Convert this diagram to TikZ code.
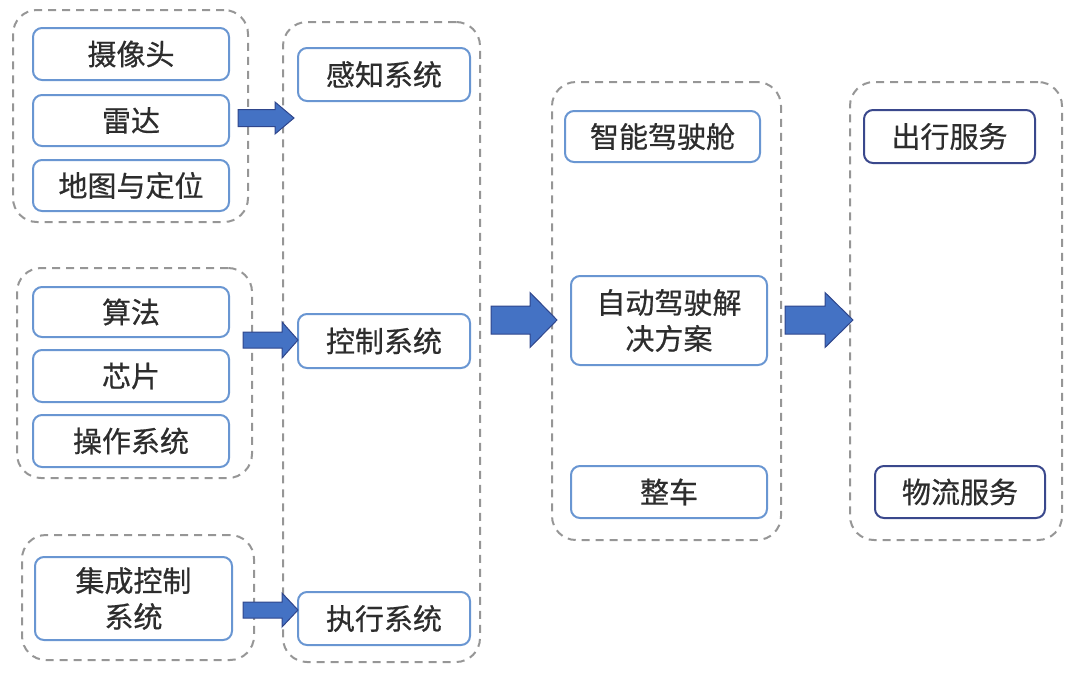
\documentclass[tikz,border=0pt]{standalone}
\usepackage{fontspec}
\newfontfamily\cjk[FakeBold=0.6]{Noto Sans CJK SC}
\usetikzlibrary{fit}
\definecolor{boxblue}{RGB}{105,150,210}
\definecolor{boxnavy}{RGB}{58,72,140}
\definecolor{arrfill}{RGB}{68,114,196}
\definecolor{arrdraw}{RGB}{47,70,140}
\definecolor{grpgray}{RGB}{150,150,150}
\definecolor{txt}{RGB}{45,45,45}
\tikzset{
  box/.style={draw=boxblue, line width=1pt, rounded corners=4.5pt, fill=white,
    text=txt, font=\cjk\fontsize{14.5}{18}\selectfont, align=center, inner sep=0pt},
  navybox/.style={box, draw=boxnavy},
  grp/.style={draw=grpgray, line width=1pt, dash pattern=on 4pt off 3pt,
    rounded corners=12pt, inner sep=0pt},
  barrowsty/.style={fill=arrfill, draw=arrdraw, line width=0.5pt, line join=miter}
}
\newcommand\blockarrow[6]{%
  \draw[barrowsty] (#1,#4-#5) -- (#2,#4-#5) -- (#2,#4-#6) -- (#3,#4) -- (#2,#4+#6) -- (#2,#4+#5) -- (#1,#4+#5) -- cycle;}
\begin{document}
\begin{tikzpicture}[x=0.5pt,y=-0.5pt]
\useasboundingbox (0,0) rectangle (1080,675);
% groups
\node[grp, fit={(13,10) (248,222)}] (g1) {};
\node[grp, fit={(17,268) (252,478)}] (g2) {};
\node[grp, fit={(22,535) (254,660)}] (g3) {};
\node[grp, fit={(283,22) (480,662)}] (c2) {};
\node[grp, fit={(552,82) (781,540)}] (c3) {};
\node[grp, fit={(850,82) (1062,540)}] (c4) {};
% column 1
\node[box, minimum width=98pt, minimum height=26pt] (cam) at (131,54) {摄像头};
\node[box, minimum width=98pt, minimum height=25.5pt] (radar) at (131,120.5) {雷达};
\node[box, minimum width=98pt, minimum height=25.5pt] (map) at (131,185.5) {地图与定位};
\node[box, minimum width=98pt, minimum height=25pt] (algo) at (131,312) {算法};
\node[box, minimum width=98pt, minimum height=26pt] (chip) at (131,376) {芯片};
\node[box, minimum width=98pt, minimum height=26pt] (os) at (131,441) {操作系统};
\node[box, minimum width=98.5pt, minimum height=41.5pt] (ics) at (133.5,598.5) {集成控制\\系统};
% column 2
\node[box, minimum width=86pt, minimum height=26.5pt] (sense) at (384,74.5) {感知系统};
\node[box, minimum width=86pt, minimum height=27pt] (ctrl) at (384,341) {控制系统};
\node[box, minimum width=86pt, minimum height=26.5pt] (exec) at (384,618.5) {执行系统};
% column 3
\node[box, minimum width=97.5pt, minimum height=25.5pt] (cockpit) at (662.5,136.5) {智能驾驶舱};
\node[box, minimum width=98pt, minimum height=44.5pt] (ads) at (669,320.5) {自动驾驶解\\决方案};
\node[box, minimum width=98pt, minimum height=26pt] (car) at (669,492) {整车};
% column 4
\node[navybox, minimum width=85.5pt, minimum height=26.5pt] (travel) at (949.5,136.5) {出行服务};
\node[navybox, minimum width=85pt, minimum height=26pt] (logi) at (960,492) {物流服务};
% block arrows
\blockarrow{238}{275}{294}{118}{8.5}{16}
\blockarrow{243}{282}{298}{340}{8}{18}
\blockarrow{243}{282}{298}{610}{8}{17}
\blockarrow{491}{530}{557}{320}{14}{27.5}
\blockarrow{785}{825}{853}{320}{14}{27.5}
\end{tikzpicture}
\end{document}
